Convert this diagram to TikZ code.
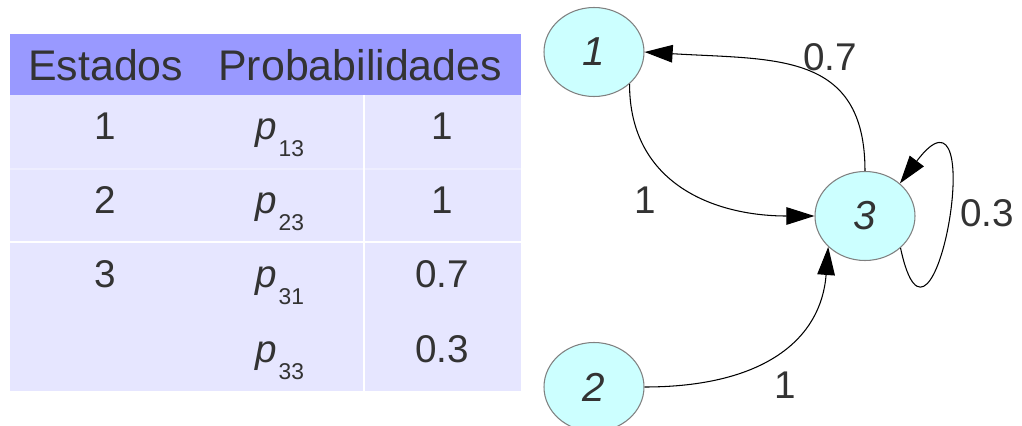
\documentclass[tikz,border=0pt]{standalone}
\usepackage{fontspec}
\setmainfont{Liberation Sans}
\usetikzlibrary{arrows.meta, shapes.geometric}
\definecolor{headblue} {RGB}{153, 153, 255}
\definecolor{bodyblue} {RGB}{230, 230, 255}
\definecolor{rowline}  {RGB}{238, 238, 255}
\definecolor{statecyan}{RGB}{204, 255, 255}
\definecolor{inkgray}  {RGB}{51,  51,  51}
\newcommand{\prob}[1]{\textit{p}\kern1pt\raisebox{-10pt}{\fontsize{13pt}{13pt}\selectfont #1}}
\tikzset{
  markovstate/.style={
    ellipse, draw=gray, fill=statecyan, line width=0.6pt,
    minimum width=100*0.02cm, minimum height=89*0.02cm,
    font=\fontsize{23pt}{23pt}\selectfont\itshape, text=inkgray
  },
  markovarrow/.style={
    -{Triangle[length=16pt, width=10pt]}, line width=0.6pt, black
  },
  markovlabel/.style={
    font=\fontsize{22pt}{22pt}\selectfont, text=inkgray, inner sep=0pt
  },
  headtext/.style={
    font=\fontsize{24.4pt}{24.4pt}\selectfont, text=inkgray,
    inner sep=0pt, anchor=base west
  },
  celltext/.style={
    font=\fontsize{22pt}{22pt}\selectfont, text=inkgray,
    inner sep=0pt, anchor=base
  },
}
\begin{document}
\begin{tikzpicture}[x=0.02cm, y=-0.02cm]
  \clip (0,0) rectangle (1022,426);
  % table
  \fill[bodyblue] (10,95) rectangle (521,391);
  \fill[headblue] (10,34) rectangle (521,95);
  \draw[rowline, line width=0.6pt] (10,169) -- (521,169);
  \draw[white, line width=1pt] (10,242) -- (521,242);
  \draw[white, line width=1pt] (364,95) -- (364,391);
  \node[headtext] (hstate) at (28,80) {Estados};
  \node[headtext] (hprob) at (218,80) {Probabilidades};
  \node[celltext] (s1) at (105,139) {1};
  \node[celltext] (s2) at (105,213) {2};
  \node[celltext] (s3) at (105,287) {3};
  \node[celltext, anchor=base west] (p13) at (255,139) {\prob{13}};
  \node[celltext, anchor=base west] (p23) at (255,213) {\prob{23}};
  \node[celltext, anchor=base west] (p31) at (255,287) {\prob{31}};
  \node[celltext, anchor=base west] (p33) at (255,362) {\prob{33}};
  \node[celltext] (v13) at (442,139) {1};
  \node[celltext] (v23) at (442,213) {1};
  \node[celltext] (v31) at (442,287) {0.7};
  \node[celltext] (v33) at (442,362) {0.3};
  % chain
  \node[markovstate] (n1) at (594,52) {1};
  \node[markovstate] (n3) at (865,216) {3};
  \node[markovstate] (n2) at (594,387) {2};
  \draw[markovarrow] (n1.-42) .. controls +(0,100) and +(-100,0) .. (n3.west);
  \draw[markovarrow] (n3.north) .. controls +(0,-120) and +(130,8) .. (n1.east);
  \draw[markovarrow] (n2.east) .. controls +(120,0) and +(-7,92) .. (n3.-140);
  \draw[markovarrow] (n3.-42) .. controls +(32,150) and +(92,-122) .. (n3.43);
  \node[markovlabel] (l13) at (645,200) {1};
  \node[markovlabel] (l31) at (830,57) {0.7};
  \node[markovlabel] (l23) at (785,385) {1};
  \node[markovlabel] (l33) at (987,213) {0.3};
\end{tikzpicture}
\end{document}
